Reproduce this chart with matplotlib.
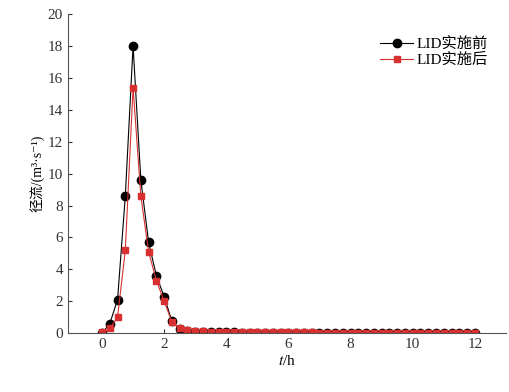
import matplotlib
matplotlib.use("Agg")
import matplotlib.pyplot as plt

plt.rcParams['font.family'] = ['Liberation Serif', 'Noto Sans CJK SC', 'DejaVu Sans']
plt.rcParams['mathtext.fontset'] = 'stix'
plt.rcParams['axes.unicode_minus'] = False

# 时间 (h), 0.25 h 间隔
t = [0.0, 0.25, 0.5, 0.75, 1.0, 1.25, 1.5, 1.75, 2.0, 2.25, 2.5, 2.75,
     3.0, 3.25, 3.5, 3.75, 4.0, 4.25, 4.5, 4.75, 5.0, 5.25, 5.5, 5.75,
     6.0, 6.25, 6.5, 6.75, 7.0, 7.25, 7.5, 7.75, 8.0, 8.25, 8.5, 8.75,
     9.0, 9.25, 9.5, 9.75, 10.0, 10.25, 10.5, 10.75, 11.0, 11.25, 11.5, 11.75, 12.0]

# LID实施前 径流 (m3/s)
q_before = [0.0, 0.6, 2.1, 8.6, 18.0, 9.6, 5.7, 3.6, 2.3, 0.75, 0.25, 0.15,
            0.1, 0.08, 0.07, 0.06, 0.05, 0.05, 0.04, 0.04, 0.04, 0.03, 0.03, 0.03,
            0.03, 0.03, 0.03, 0.02, 0.02, 0.02, 0.02, 0.02, 0.02, 0.02, 0.02, 0.02,
            0.02, 0.02, 0.02, 0.02, 0.02, 0.02, 0.02, 0.02, 0.02, 0.02, 0.02, 0.02, 0.02]

# LID实施后 径流 (m3/s)
q_after = [0.05, 0.3, 1.0, 5.2, 15.4, 8.6, 5.1, 3.3, 2.0, 0.7, 0.3, 0.2,
           0.15, 0.12, 0.1, 0.09, 0.08, 0.07, 0.07, 0.06, 0.06, 0.06, 0.05, 0.05,
           0.05, 0.05, 0.05, 0.05, 0.04, 0.04, 0.04, 0.04, 0.04, 0.04, 0.04, 0.04,
           0.04, 0.04, 0.04, 0.04, 0.04, 0.04, 0.04, 0.04, 0.04, 0.04, 0.04, 0.04, 0.04]

fig = plt.figure(figsize=(5.1, 3.92), dpi=100)
ax = fig.add_axes([0.133, 0.15, 0.859, 0.814])

ax.plot(t, q_before, color='black', lw=0.8, marker='o', ms=6,
        label='LID实施前')
ax.plot(t, q_after, color='#d83030', lw=0.8, marker='s', ms=4.5,
        label='LID实施后')

ax.set_xlim(-1.1, 13)
ax.set_ylim(0, 20)
ax.set_xticks([0, 2, 4, 6, 8, 10, 12])
ax.set_yticks(range(0, 21, 2))
ax.tick_params(direction='in', labelsize=11, length=3, colors='#333333')
ax.spines['top'].set_visible(False)
ax.spines['right'].set_visible(False)
for s in ['left', 'bottom']:
    ax.spines[s].set_color('#555555')

ax.set_xlabel('$t$/h', fontsize=11, labelpad=2)
ax.set_ylabel('径流/(m³·s⁻¹)', fontsize=10, labelpad=2)

ax.legend(loc='upper right', frameon=False, fontsize=11,
          bbox_to_anchor=(0.99, 0.97), handlelength=2.2,
          handletextpad=0.2, labelspacing=0.1)

fig.savefig('out.png', dpi=100)
